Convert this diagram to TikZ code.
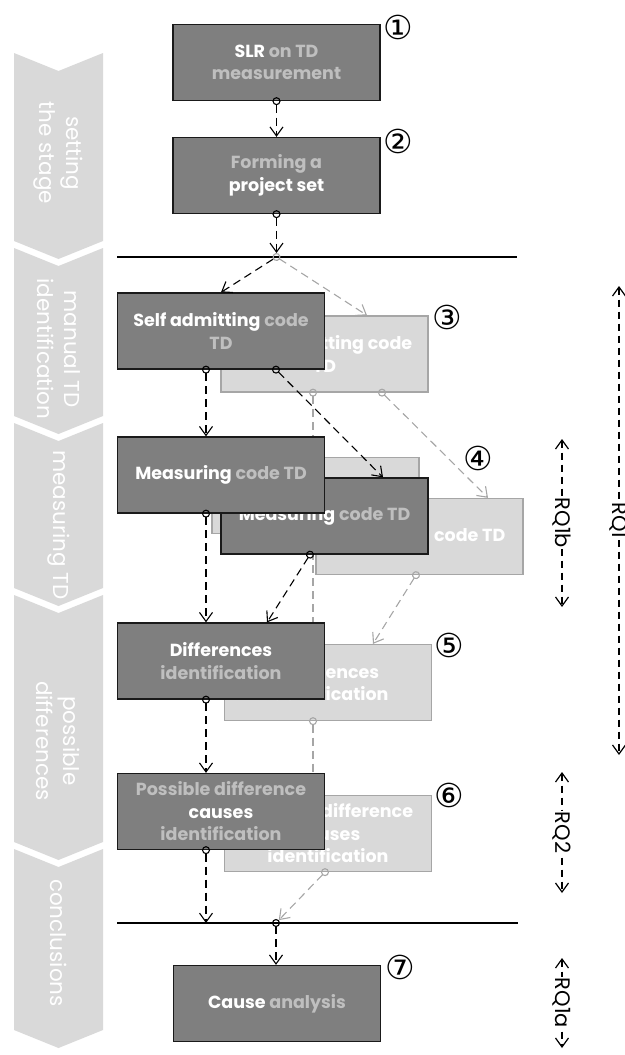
\documentclass[tikz,border=0pt]{standalone}
\usepackage{fontspec}
\usetikzlibrary{arrows.meta}
\newfontfamily\uifont{Poppins}
\newfontfamily\numfont{DejaVu Sans}
\definecolor{boxgrey}{HTML}{7F7F7F}
\definecolor{boxedge}{HTML}{1A1A1A}
\definecolor{softgrey}{HTML}{BFBFBF}
\definecolor{ghostgrey}{HTML}{D9D9D9}
\definecolor{ghostedge}{HTML}{A6A6A6}
\definecolor{phasegrey}{HTML}{D9D9D9}
\newcommand{\hi}[1]{\textcolor{white}{#1}}
\tikzset{
  phaselabel/.style={rotate=-90, text=white, align=center, inner sep=0pt,
    font=\uifont\fontsize{21.5}{27}\selectfont},
  stepbox/.style={draw=boxedge, fill=boxgrey, line width=1.3pt,
    minimum width=207pt, minimum height=76pt, inner sep=2pt, align=center,
    text=softgrey, font=\uifont\bfseries\fontsize{17.5}{22.5}\selectfont},
  ghostbox/.style={stepbox, draw=ghostedge, fill=ghostgrey, text=white},
  stepnum/.style={inner sep=0pt, font=\numfont\fontsize{33}{33}\selectfont},
  flow/.style={draw=black, line width=1.1pt, dash pattern=on 8pt off 5pt, ->},
  ghostflow/.style={flow, draw=ghostedge},
  dotstart/.style={arrows={{Circle[open,length=8pt]}->}, shorten <=-4pt},
  stageline/.style={line width=1.1pt},
  rqspan/.style={line width=1.2pt, dash pattern=on 7pt off 5pt, <->},
  rqlabel/.style={rotate=-90, fill=white, inner sep=1pt,
    font=\uifont\fontsize{21}{21}\selectfont}
}
\begin{document}
\begin{tikzpicture}[x=1pt, y=-1pt, >={Straight Barb[length=9pt,width=13pt]}]
  \useasboundingbox (0,0) rectangle (624,1055);

  % phases on the left
  \foreach \ytop/\ybot/\ytxt/\phase [count=\i] in
    {53/241/153/{setting\\the stage}, 248/416/349/{manual TD\\identification},
     423/588/525/{measuring TD}, 595/842/741/{possible\\differences},
     849/1030/943/{conclusions}}
  {
    \fill[phasegrey] (14,\ytop) -- (58.5,\ytop+18) -- (103,\ytop)
      -- (103,\ybot) -- (58.5,\ybot+18) -- (14,\ybot) -- cycle;
    \node[phaselabel] (phase\i) at (58.5,\ytxt) {\phase};
  }

  % back layer
  \node[ghostbox] (satg) at (324.5,354) {Self admitting code\\TD};
  \node[ghostbox] (meaf) at (419.5,536.5) {Measuring code TD};
  \node[ghostbox] (meab) at (315.5,495.5) {};
  \node[ghostbox] (difg) at (328,682.5) {Differences\\identification};
  \node[ghostbox] (caug) at (328,833.5) {Possible difference\\causes\\identification};

  \coordinate (split) at (276.5,257);
  \coordinate (join) at (276,923);
  \coordinate (causeend) at (206,923);
  \draw[stageline] (117,257) -- (517,257);
  \draw[stageline] (117,923) -- (518,923);

  \draw[ghostflow, dotstart] (split) -- ([xshift=42.5pt]satg.north);
  \draw[ghostflow, dotstart] ([xshift=-11.5pt]satg.south) -- ([xshift=-15pt]difg.north);
  \draw[ghostflow, dotstart] ([xshift=57.5pt]satg.south) -- ([xshift=68.5pt]meaf.north);
  \draw[ghostflow, dotstart] ([xshift=-3.5pt]meaf.south) -- ([xshift=45pt]difg.north);
  \draw[ghostflow, dotstart] ([xshift=-15pt]difg.south) -- ([xshift=-15pt]caug.north);
  \draw[ghostflow, dotstart, shorten >=4pt] ([xshift=-3pt]caug.south) -- (join);

  % front layer
  \node[stepbox] (slr) at (276.5,62.5) {\hi{SLR} on TD\\measurement};
  \node[stepbox] (form) at (276.5,175.5) {Forming a\\\hi{project set}};
  \node[stepbox] (sat) at (221,331) {\hi{Self admitting} code\\TD};
  \node[stepbox] (meam) at (324.5,516) {\hi{Measuring} code TD};
  \node[stepbox] (mea) at (221,475) {\hi{Measuring} code TD};
  \node[stepbox] (dif) at (221,661) {\hi{Differences}\\identification};
  \node[stepbox] (cau) at (221,811.5) {Possible difference\\\hi{causes}\\identification};
  \node[stepbox] (ana) at (277,1003.5) {\hi{Cause} analysis};

  \node[stepnum] (n1) at (398,27) {①};
  \node[stepnum] (n2) at (398,141) {②};
  \node[stepnum] (n3) at (447,317) {③};
  \node[stepnum] (n4) at (478,458) {④};
  \node[stepnum] (n5) at (449,645) {⑤};
  \node[stepnum] (n6) at (449,795) {⑥};
  \node[stepnum] (n7) at (400,967) {⑦};

  \draw[flow, dotstart] (slr.south) -- (form.north);
  \draw[flow, dotstart, shorten >=4pt] (form.south) -- (split);
  \draw[flow, shorten <=4pt] (split) -- (sat.north);
  \draw[flow, dotstart] ([xshift=-15pt]sat.south) -- ([xshift=-15pt]mea.north);
  \draw[flow, dotstart] ([xshift=55pt]sat.south) -- ([xshift=58.5pt]meam.north);
  \draw[flow, dotstart] ([xshift=-15pt]mea.south) -- ([xshift=-15pt]dif.north);
  \draw[flow, dotstart] ([xshift=-14.5pt]meam.south) -- ([xshift=46pt]dif.north);
  \draw[flow, dotstart] ([xshift=-15pt]dif.south) -- ([xshift=-15pt]cau.north);
  \draw[flow, dotstart] ([xshift=-15pt]cau.south) -- (causeend);
  \draw[flow, dotstart] (join) -- ([xshift=-1pt]ana.north);

  % research questions
  \coordinate (rq1top) at (619,286);   \coordinate (rq1bot) at (619,755);
  \coordinate (rq1btop) at (562,439);  \coordinate (rq1bbot) at (562,607);
  \coordinate (rq2top) at (562,772);   \coordinate (rq2bot) at (562,893);
  \coordinate (rq1atop) at (562,958);  \coordinate (rq1abot) at (562,1048);
  \draw[rqspan] (rq1top) -- node[rqlabel] (rq1) {RQ1} (rq1bot);
  \draw[rqspan] (rq1btop) -- node[rqlabel] (rq1b) {RQ1b} (rq1bbot);
  \draw[rqspan] (rq2top) -- node[rqlabel] (rq2) {RQ2} (rq2bot);
  \draw[rqspan] (rq1atop) -- node[rqlabel] (rq1a) {RQ1a} (rq1abot);
\end{tikzpicture}
\end{document}
